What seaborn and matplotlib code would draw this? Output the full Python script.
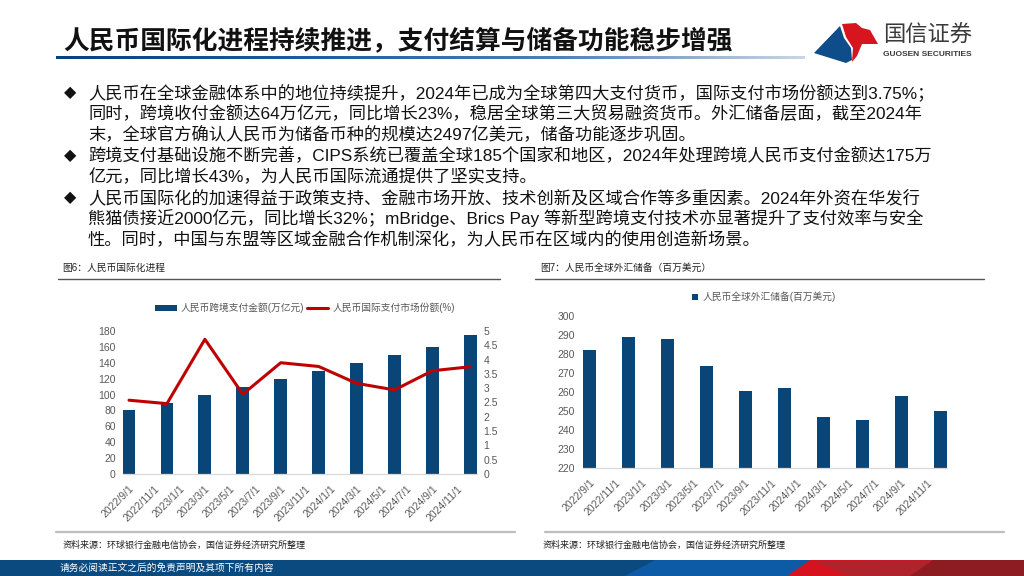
import matplotlib
matplotlib.use("Agg")
import matplotlib.pyplot as plt
import seaborn as sns
import numpy as np
import pandas as pd
from matplotlib.patches import Patch, Polygon, Rectangle
from matplotlib.lines import Line2D

# ---------------- data ----------------
quarters = ["2022-09", "2022-12", "2023-03", "2023-06", "2023-09",
            "2023-12", "2024-03", "2024-06", "2024-09", "2024-12"]
cross_border = [80, 90, 100, 110, 120, 130, 140, 150, 160, 175]          # 万亿元
pay_share = [2.58, 2.46, 4.71, 2.79, 3.89, 3.76, 3.17, 2.94, 3.61, 3.75]  # %
reserves = [281.8, 288.6, 287.9, 273.5, 260.5, 262.1, 246.8, 245.3, 257.7, 249.6]
tick_labels = ["2022/9/1", "2022/11/1", "2023/1/1", "2023/3/1", "2023/5/1",
               "2023/7/1", "2023/9/1", "2023/11/1", "2024/1/1", "2024/3/1",
               "2024/5/1", "2024/7/1", "2024/9/1", "2024/11/1"]

title = "人民币国际化进程持续推进，支付结算与储备功能稳步增强"
bullets = [
    ("◆", "人民币在全球金融体系中的地位持续提升，2024年已成为全球第四大支付货币，国际支付市场份额达到3.75%；"),
    ("", "同时，跨境收付金额达64万亿元，同比增长23%，稳居全球第三大贸易融资货币。外汇储备层面，截至2024年"),
    ("", "末，全球官方确认人民币为储备币种的规模达2497亿美元，储备功能逐步巩固。"),
    ("◆", "跨境支付基础设施不断完善，CIPS系统已覆盖全球185个国家和地区，2024年处理跨境人民币支付金额达175万"),
    ("", "亿元，同比增长43%，为人民币国际流通提供了坚实支持。"),
    ("◆", "人民币国际化的加速得益于政策支持、金融市场开放、技术创新及区域合作等多重因素。2024年外资在华发行"),
    ("", "熊猫债接近2000亿元，同比增长32%；mBridge、Brics Pay 等新型跨境支付技术亦显著提升了支付效率与安全"),
    ("", "性。同时，中国与东盟等区域金融合作机制深化，为人民币在区域内的使用创造新场景。"),
]
cap_left = "图6：人民币国际化进程"
cap_right = "图7：人民币全球外汇储备（百万美元）"
leg_bar = "人民币跨境支付金额(万亿元)"
leg_line = "人民币国际支付市场份额(%)"
leg_res = "人民币全球外汇储备(百万美元)"
source = "资料来源：环球银行金融电信协会，国信证券经济研究所整理"
footer = "请务必阅读正文之后的免责声明及其项下所有内容"

# ---------------- style ----------------
sns.set_theme(style="white")
plt.rcParams['font.family'] = ['Liberation Sans', 'Noto Sans CJK SC', 'DejaVu Sans']
plt.rcParams['axes.unicode_minus'] = False

W, H = 1024, 576
fig = plt.figure(figsize=(10.24, 5.76), dpi=100)
fig.patch.set_facecolor("white")

def fx(x):
    return x / W

def fy(y):
    return 1 - y / H

def axrect(l, t, r, b):
    return [fx(l), fy(b), (r - l) / W, (b - t) / H]

BAR = "#0A4578"
RED = "#C00000"
GRAY = "#595959"

# month offsets from 2022-09 (axis in months)
start = pd.Period("2022-09", freq="M")
xpos = np.array([(pd.Period(q, freq="M") - start).n + 0.5 for q in quarters])
tick_pos = np.arange(0, 2 * len(tick_labels), 2)

df = pd.DataFrame({"x": xpos, "amt": cross_border, "share": pay_share, "res": reserves})

def style_xaxis(ax):
    ax.set_xlim(0, 28)
    ax.set_xticks(list(tick_pos) + [28])
    ax.set_xticklabels(tick_labels + [""], rotation=45, ha="right", va="top",
                       rotation_mode="anchor", fontsize=7.5, color=GRAY)
    ax.tick_params(axis="x", which="both", length=4, width=0.8, color="#D9D9D9",
                   direction="out", pad=3)
    for lab in ax.get_xticklabels():
        lab.set_transform(lab.get_transform() +
                          matplotlib.transforms.ScaledTranslation(6 / 100, 0, fig.dpi_scale_trans))
    for s in ["top", "left", "right"]:
        ax.spines[s].set_visible(False)
    ax.spines["bottom"].set_color("#D9D9D9")
    ax.spines["bottom"].set_linewidth(0.9)
    ax.set_xlabel("")
    ax.set_ylabel("")

# ---------------- left chart ----------------
axL = fig.add_axes(axrect(122.7, 331, 476.7, 474))
sns.barplot(data=df, x="x", y="amt", native_scale=True, width=0.34,
            color=BAR, saturation=1, ax=axL, edgecolor="none")
axL.set_ylim(0, 180)
axL.set_yticks(np.arange(0, 181, 20))
axL.tick_params(axis="y", length=0, pad=5, labelsize=7.5, labelcolor=GRAY)
style_xaxis(axL)

axR = axL.twinx()
sns.lineplot(data=df, x="x", y="share", color=RED, lw=2.2, ax=axR)
axR.set_ylim(0, 5)
axR.set_yticks(np.arange(0, 5.01, 0.5))
axR.set_yticklabels([f"{v:g}" for v in np.arange(0, 5.01, 0.5)])
axR.tick_params(axis="y", length=0, pad=5, labelsize=7.5, labelcolor=GRAY)
for s in ["top", "left", "right", "bottom"]:
    axR.spines[s].set_visible(False)
axR.set_ylabel("")
axR.set_xlim(0, 28)

fig.legend(handles=[Patch(facecolor=BAR, edgecolor="none", label=leg_bar),
                    Line2D([0], [0], color=RED, lw=2.2, label=leg_line)],
           loc="center", bbox_to_anchor=(fx(305), fy(308)), ncol=2, frameon=False,
           fontsize=7, labelcolor=GRAY, handlelength=2.2, handleheight=0.55,
           handletextpad=0.4, columnspacing=0.3)

# ---------------- right chart ----------------
ax2 = fig.add_axes(axrect(583.3, 315.7, 946.7, 467.7))
sns.barplot(data=df, x="x", y="res", native_scale=True, width=0.34,
            color=BAR, saturation=1, ax=ax2, edgecolor="none")
ax2.set_ylim(220, 300)
ax2.set_yticks(np.arange(220, 301, 10))
ax2.tick_params(axis="y", length=0, pad=6, labelsize=7.5, labelcolor=GRAY)
style_xaxis(ax2)

fig.legend(handles=[Patch(facecolor=BAR, edgecolor="none", label=leg_res)],
           loc="center", bbox_to_anchor=(fx(764), fy(297)), frameon=False,
           fontsize=7, labelcolor=GRAY, handlelength=0.55, handleheight=0.55,
           handletextpad=0.5)

# ---------------- header ----------------
fig.text(fx(63), fy(40), title, fontsize=18.5, fontweight="bold", color="#111111",
         va="center", ha="left")
grad_ax = fig.add_axes(axrect(56, 55.5, 805, 59.5))
grad = np.linspace(0, 1, 256).reshape(1, -1)
cmap = matplotlib.colors.LinearSegmentedColormap.from_list(
    "hdr", ["#0B3F7A", "#1D5A9C", "#4F7FB5", "#C9D6E6"])
grad_ax.imshow(grad, aspect="auto", cmap=cmap, extent=(0, 1, 0, 1))
grad_ax.axis("off")

# logo
def poly(pts, color):
    fig.patches.append(Polygon([(fx(x), fy(y)) for x, y in pts], closed=True,
                               transform=fig.transFigure, facecolor=color,
                               edgecolor="none"))

poly([(814, 53), (840, 26), (844, 38), (851, 48), (852, 60), (846, 63)], "#0E4C8A")
poly([(842, 24), (856, 23), (862, 28), (870, 30), (878, 44), (862, 44),
      (857, 56), (852, 62), (853, 48), (846, 37)], "#D7151F")
fig.text(fx(883), fy(35), "国信证券", fontsize=16, color="#3A3A3A", va="center", ha="left",
         family=['Noto Sans CJK SC'])
fig.text(fx(883), fy(55), "GUOSEN SECURITIES", fontsize=6, color="#3A3A3A",
         va="center", ha="left", fontweight="bold", family=['Liberation Sans Narrow', 'Liberation Sans'])

# ---------------- bullets ----------------
for i, (mark, line) in enumerate(bullets):
    y = 93 + i * 20.9
    if mark:
        fig.text(fx(70), fy(y), mark, fontsize=11.5, color="#111111", va="center", ha="center",
                 family=['DejaVu Sans'])
    fig.text(fx(88), fy(y), line, fontsize=12.4, color="#111111", va="center", ha="left")

# ---------------- captions ----------------
fig.text(fx(62), fy(268), cap_left, fontsize=7, color="#222222", va="center", ha="left")
fig.text(fx(540), fy(268), cap_right, fontsize=7, color="#222222", va="center", ha="left")
fig.add_artist(Line2D([fx(58), fx(500)], [fy(278.5), fy(278.5)], color="#555555", lw=1.0))
fig.add_artist(Line2D([fx(535), fx(984)], [fy(278.5), fy(278.5)], color="#555555", lw=1.0))

# ---------------- sources ----------------
fig.add_artist(Line2D([fx(56), fx(515)], [fy(532), fy(532)], color="#BFBFBF", lw=1.6))
fig.add_artist(Line2D([fx(545), fx(1004)], [fy(532), fy(532)], color="#BFBFBF", lw=1.6))
fig.text(fx(63), fy(545), source, fontsize=6.5, color="#222222", va="center", ha="left")
fig.text(fx(543), fy(545), source, fontsize=6.5, color="#222222", va="center", ha="left")

# ---------------- footer bar ----------------
fig.patches.append(Rectangle((0, 0), 1, 16 / H, transform=fig.transFigure,
                             facecolor="#0B4A7E", edgecolor="none"))
poly([(625, 576), (655, 560), (812, 560), (790, 576)], "#0D5BA6")
poly([(787, 576), (810, 560), (1024, 560), (1024, 576)], "#D7121F")
poly([(850, 576), (812, 561), (1024, 560), (1024, 576)], "#B0232D")
poly([(910, 576), (933, 560), (1024, 560), (1024, 576)], "#8C1C22")
fig.text(fx(60), fy(568), footer, fontsize=7, color="white", va="center", ha="left")

fig.savefig("out.png", dpi=100, facecolor="white")
